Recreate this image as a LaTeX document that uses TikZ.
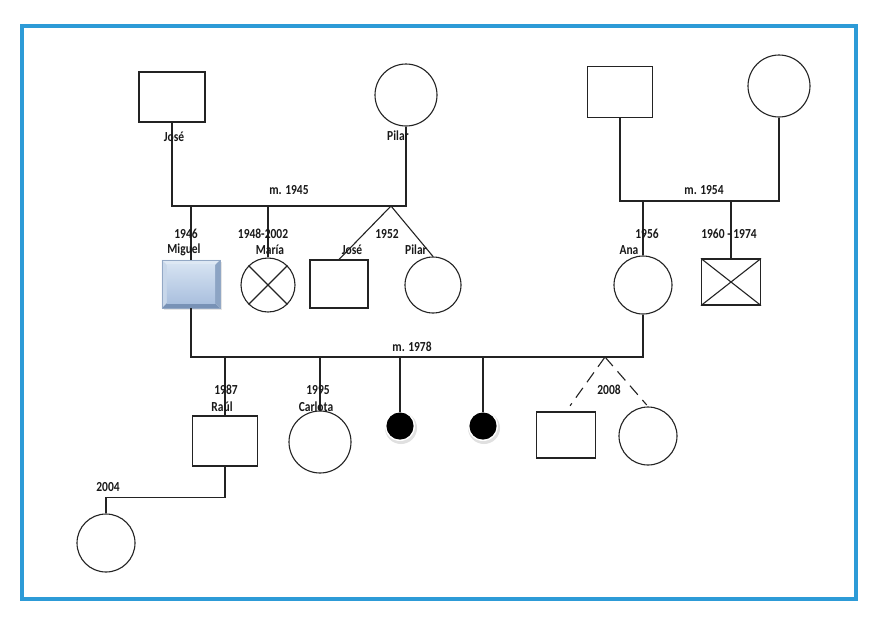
\documentclass[tikz,border=0pt]{standalone}
\usepackage{fontspec}
\setmainfont{Carlito}
\usetikzlibrary{calc}
\definecolor{frameblue}{RGB}{45,155,215}
\definecolor{ln}{RGB}{35,35,35}
\definecolor{bvTop}{RGB}{222,232,244}
\definecolor{bvLeft}{RGB}{200,215,234}
\definecolor{bvBot}{RGB}{120,146,182}
\definecolor{bvRight}{RGB}{140,164,196}
\definecolor{inTop}{RGB}{212,225,241}
\definecolor{inBot}{RGB}{170,192,222}
\begin{document}
\begin{tikzpicture}[x=1pt,y=-1pt,
  lbl/.style={font=\fontsize{11.5}{13}\selectfont\bfseries, text=black!90, inner sep=0pt, yscale=1.2},
  sq/.style={draw=ln, line width=1.1pt, fill=white, rectangle, inner sep=0pt},
  ci/.style={draw=ln, line width=1.1pt, fill=white, circle, inner sep=0pt},
  dead/.style={ci, fill=black, draw=black},
  link/.style={draw=ln, line width=1.1pt},
  dlink/.style={link, dash pattern=on 12pt off 7pt}]
\useasboundingbox (0,0) rectangle (886,625);
\fill[white] (0,0) rectangle (886,625);
\draw[frameblue, line width=4pt] (22,26) rectangle (856,599);

% grandparents
\node[sq, minimum width=66, minimum height=50] (gpJ) at (172,97) {};
\node[ci, minimum size=62] (gmP) at (406,95) {};
\node[sq, minimum width=65, minimum height=51] (gpR) at (620,92) {};
\node[ci, minimum size=62] (gmR) at (779,86) {};

% marriage coordinates
\coordinate (m1L) at (172,206);
\coordinate (m1R) at (406,206);
\coordinate (m2L) at (620,201);
\coordinate (m2R) at (779,201);
\coordinate (m3L) at (191,357);
\coordinate (m3R) at (643,357);
\coordinate (tw1apex) at (391,206);
\coordinate (tw2apex) at (605,357);

% Miguel (beveled)
\node[rectangle, minimum width=58, minimum height=48, inner sep=0pt] (miguel) at (191,284) {};
\fill[black!10] ($(miguel.north west)+(2,2)$) rectangle ($(miguel.south east)+(2,2)$);
\fill[bvTop] (miguel.north west) -- (miguel.north east) -- ++(-5,5) -- ($(miguel.north west)+(5,5)$) -- cycle;
\fill[bvLeft] (miguel.north west) -- ($(miguel.north west)+(5,5)$) -- ($(miguel.south west)+(5,-5)$) -- (miguel.south west) -- cycle;
\fill[bvBot] (miguel.south west) -- ($(miguel.south west)+(5,-5)$) -- ($(miguel.south east)+(-5,-5)$) -- (miguel.south east) -- cycle;
\fill[bvRight] (miguel.north east) -- (miguel.south east) -- ($(miguel.south east)+(-5,-5)$) -- ($(miguel.north east)+(-5,5)$) -- cycle;
\shade[top color=inTop, bottom color=inBot] ($(miguel.north west)+(5,5)$) rectangle ($(miguel.south east)+(-5,-5)$);
\draw[bvBot!80, line width=0.5pt] (miguel.north west) rectangle (miguel.south east);

% generation 2
\node[ci, minimum size=54] (maria) at (268,285) {};
\draw[link] (maria.north west) -- (maria.south east) (maria.north east) -- (maria.south west);
\node[sq, minimum width=58, minimum height=48] (joseT) at (339,284) {};
\node[ci, minimum size=56] (pilarT) at (433,285) {};
\node[ci, minimum size=58] (ana) at (643,285) {};
\node[sq, minimum width=59, minimum height=46] (dec) at (731,282) {};
\draw[link] (dec.north west) -- (dec.south east) (dec.north east) -- (dec.south west);

% generation 3
\node[sq, minimum width=65, minimum height=50] (raul) at (225,441) {};
\node[ci, minimum size=62] (carlota) at (320,442) {};
\fill[black!12] (401,428) circle (16);
\fill[white] (400,426) circle (15);
\fill[black!12] (484,428) circle (16);
\fill[white] (483,426) circle (15);
\node[dead, minimum size=26] (mc1) at (400,426) {};
\node[dead, minimum size=26] (mc2) at (483,426) {};
\node[sq, minimum width=59, minimum height=46] (tw1) at (566,435) {};
\node[ci, minimum size=58] (tw2) at (648,436) {};
\node[ci, minimum size=58] (gc) at (106,543) {};

% connectors
\draw[link] (gpJ.south) -- (m1L) -- (m1R) -- (gmP.south);
\draw[link] (gpR.south) -- (m2L) -- (m2R) -- (gmR.south);
\draw[link] (miguel.north) -- (miguel.north |- m1L);
\draw[link] (maria.north) -- (maria.north |- m1L);
\draw[link] (joseT.north) -- (tw1apex) -- (pilarT.north);
\draw[link] (ana.north) -- (ana.north |- m2L);
\draw[link] (dec.north) -- (dec.north |- m2L);
\draw[link] (miguel.south) -- (m3L) -- (m3R) -- (ana.south);
\draw[link] (raul.north) -- (raul.north |- m3L);
\draw[link] (carlota.north) -- (carlota.north |- m3L);
\draw[link] (mc1.north) -- (mc1.north |- m3L);
\draw[link] (mc2.north) -- (mc2.north |- m3L);
\draw[dlink, shorten >=7pt] (tw2apex) -- (tw1.north);
\draw[dlink, shorten >=2pt] (tw2apex) -- (tw2.north);
\draw[link] (raul.south) -- ++(0,31) -| (gc.north);

% labels
\node[lbl] (lJ) at (174,137) {José};
\node[lbl] (lP) at (398,136) {Pilar};
\node[lbl] (lm1) at (289,190) {m. 1945};
\node[lbl] (lm2) at (704,190) {m. 1954};
\node[lbl] (lm3) at (412,347) {m. 1978};
\node[lbl] (y46) at (186,234) {1946};
\node[lbl] (nMi) at (184,250) {Miguel};
\node[lbl] (y48) at (263,234) {1948-2002};
\node[lbl] (nMa) at (270,250) {María};
\node[lbl] (y52) at (387,234) {1952};
\node[lbl] (nJT) at (352,250) {José};
\node[lbl] (nPT) at (416,250) {Pilar};
\node[lbl] (y56) at (647,234) {1956};
\node[lbl] (nAn) at (629,250) {Ana};
\node[lbl] (y60) at (729,234) {1960 - 1974};
\node[lbl] (y87) at (226,390) {1987};
\node[lbl] (nRa) at (222,407) {Raúl};
\node[lbl] (y95) at (318,390) {1995};
\node[lbl] (nCa) at (316,407) {Carlota};
\node[lbl] (y08) at (609,390) {2008};
\node[lbl] (y04) at (108,487) {2004};
\end{tikzpicture}
\end{document}
